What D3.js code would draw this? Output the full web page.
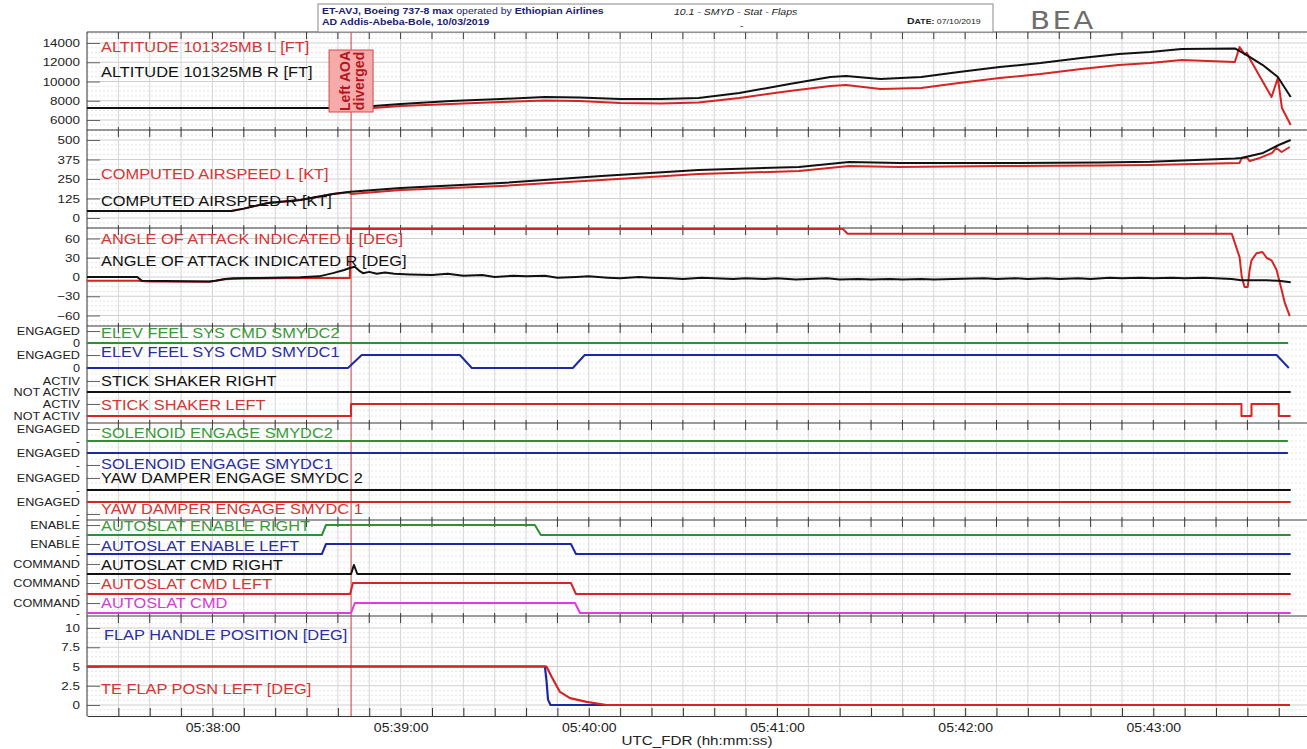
<!DOCTYPE html>
<html lang="en">
<head>
<meta charset="UTF-8">
<title>ET-AVJ SMYD Stat Flaps</title>
<script src="https://cdn.jsdelivr.net/npm/d3@7"></script>
<style>
  body { margin: 0; background: #fff; }
  svg { font-family: "Liberation Sans", Arial, sans-serif; }
</style>
</head>
<body>
<svg></svg>
<script>
// time = seconds after 05:37:00 UTC
var altitudeL = [[20,7250],[104,7250],[107,7150],[120,7455],[136,7660],[152,7870],[166,8025],[177,7975],[190,7765],[203,7715],[215,7820],[228,8290],[244,9010],[257,9530],[262,9640],[273,9220],[286,9325],[298,9845],[311,10365],[324,10780],[337,11300],[349,11710],[359,11920],[369,12230],[386,12025],[387.5,13580],[389.2,12800],[389.8,13000],[390.7,12400],[397.7,8390],[399.7,10365],[401,7250],[403.8,5480]];
var altitudeR = [[20,7250],[100,7250],[107,7350],[120,7660],[136,7975],[152,8180],[166,8390],[177,8340],[190,8180],[203,8180],[215,8290],[228,8800],[244,9740],[257,10470],[262,10570],[273,10260],[286,10470],[298,10990],[311,11500],[324,11920],[337,12440],[349,12860],[359,13065],[369,13380],[386,13430],[389.8,12750],[394.9,11710],[399.7,10470],[403.8,8390]];

var speedL = [[20,45],[66,45],[70,60],[77.7,96],[88,115],[98.4,154],[103.5,165],[104.2,154],[120,179],[152,205],[184,244],[215,282],[247,301],[263,333],[279,327],[311,333],[343,337],[359,340],[387.5,353],[388.2,385],[389.8,388],[390.7,365],[394,385],[397.9,417],[399.2,449],[400.9,423],[403.5,455]];
var speedR = [[20,45],[66,45],[70,60],[77.7,96],[88,115],[98.4,154],[104,169],[120,192],[152,224],[184,270],[215,308],[247,327],[263,359],[279,353],[311,352],[343,356],[359,361],[386,382],[388,385],[395,417],[400,468],[403.8,500]];

var aoaL = [[20,-6],[36,-6],[40,-7],[59,-7.5],[61,-6],[64,-3.5],[70,-2.5],[90,-1.5],[103.8,-1.5],[104.2,75],[261,75],[262.5,67.5],[385,67.5],[387.5,31],[388.2,0],[389.1,-15.5],[390.1,-15.5],[390.7,11],[391.3,26],[392.9,37],[394.8,39],[396.1,30],[397.7,26],[399.3,11],[400.9,-20],[401.9,-40],[403.5,-61]];
var aoaR = [[20,0],[36,0],[37.5,-6],[59,-7],[61,-6],[64,-3],[66.5,-2],[75,-1.5],[88,-0.5],[94,1],[98.4,6],[102,11],[103.8,14],[105.4,16],[107,9],[108,6],[110,8],[112.4,5],[115,7],[118,5],[123,4],[130,3],[135,5],[140,2],[146,3],[150,0],[156,2],[160,1],[166,2],[170,-1],[176,0],[180,1],[186,-1],[190,-2],[196,0],[200,-1],[206,-2],[210,-3],[216,-1],[220,-2],[226,-3],[230,-2],[236,-3],[240,-2],[246,-4],[250,-3],[256,-2],[260,-4],[266,-3],[270,-4],[276,-3],[280,-4],[286,-3],[290,-4],[296,-3],[306,-2],[310,-3],[316,-2],[320,-3],[326,-2],[330,-3],[336,-2],[340,-3],[346,-1],[350,-2],[356,-1],[360,-2],[366,-1],[370,-2],[376,-1],[380,-2],[385,-3],[388,-5],[396,-5],[400,-6],[403.8,-8]];

var elevFeel2 = [[20,0],[403,0]];
var elevFeel1 = [[20,0],[103.2,0],[107.6,1],[138.9,1],[142.7,0],[174.9,0],[178.7,1],[399.3,1],[403.2,0]];
var stickShakerR = [[20,0],[403.8,0]];
var stickShakerL = [[20,0],[104.2,0],[104.2,1],[388.1,1],[388.1,0],[391.3,0],[391.3,1],[400,1],[400,0],[403.8,0]];
var solenoid2 = [[20,0],[402.9,0]];
var solenoid1 = [[20,1],[402.9,1]];
var yawDamper2 = [[20,0],[403.8,0]];
var yawDamper1 = [[20,1],[403.8,1]];
var autoslatEnR = [[20,0],[94.9,0],[96.2,1],[162.8,1],[164.7,0],[403.8,0]];
var autoslatEnL = [[20,0],[94.9,0],[96.2,1],[174.3,1],[175.9,0],[403.8,0]];
var autoslatCmdR = [[20,0],[104.2,0],[105.1,0.9],[106.2,0],[403.8,0]];
var autoslatCmdL = [[20,0],[103.9,0],[104.8,1],[174.3,1],[175.9,0],[403.8,0]];
var autoslatCmd = [[20,0],[104.2,0],[105.4,1],[175.6,1],[177.2,0],[403.8,0]];

var flapHandle = [[20,5],[166,5],[166.5,3.2],[167,0.7],[167.8,0],[403.5,0]];
var teFlapL = [[20,5],[166.5,5],[168.1,3.7],[170.8,1.7],[174,0.9],[179.3,0.4],[185.7,0],[403.5,0]];

var altTicks = [6000, 8000, 10000, 12000, 14000];
var speedTicks = [0, 125, 250, 375, 500];
var aoaTicks = [-60, -30, 0, 30, 60];
var flapTicks = [0, 2.5, 5, 7.5, 10];
var eventTime = 104.2;

var RED = '#d62424', BLACK = '#111', GREEN = '#2f8f35', BLUE = '#1d28a6', MAGENTA = '#e03ae0';
var SX = 1.17;

var width = 1307, height = 749;
var left = 87, right = 1307, top0 = 32, bottom = 716;
var svg = d3.select('svg').attr('width', width).attr('height', height);

var x = d3.scaleLinear().domain([20, 409]).range([left, right]);
var gridTimes = d3.range(30, 409, 10);
var pad2 = d3.format('02d');
function fmtTime(t) {
  return '05:' + pad2(37 + Math.floor(t / 60)) + ':' + pad2(t % 60);
}

function putText(g, px, py, s, color, size, anchor, weight) {
  return g.append('text')
    .attr('transform', 'translate(' + px + ',' + py + ') scale(' + SX + ',1)')
    .attr('fill', color)
    .attr('font-size', size)
    .attr('text-anchor', anchor || 'start')
    .attr('font-weight', weight || 'normal')
    .text(s);
}

// panel boxes
var separators = [32, 130, 228, 326, 423, 520, 616];
var panelBounds = [[32,130],[130,228],[228,326],[326,423],[423,520],[520,616],[616,716]];

var grid = svg.append('g');

// continuous panels
var yAlt = d3.scaleLinear().domain([6000, 14000]).range([120, 43]);
var ySpd = d3.scaleLinear().domain([0, 500]).range([218, 140]);
var yAoa = d3.scaleLinear().domain([-60, 60]).range([315.5, 238.5]);
var yFlap = d3.scaleLinear().domain([0, 10]).range([705, 628]);

var contPanels = [
  {y: yAlt, ticks: altTicks, minor: 500, b: panelBounds[0], fmt: d3.format('d')},
  {y: ySpd, ticks: speedTicks, minor: 31.25, b: panelBounds[1], fmt: d3.format('d')},
  {y: yAoa, ticks: aoaTicks, minor: 7.5, b: panelBounds[2], fmt: d3.format('d')},
  {y: yFlap, ticks: flapTicks, minor: 0.625, b: panelBounds[6], fmt: function (d) { return String(d); }}
];

// horizontal grid for continuous panels
contPanels.forEach(function (p) {
  var d0 = p.y.invert(p.b[1]), d1 = p.y.invert(p.b[0]);
  var vals = d3.range(Math.ceil(d0 / p.minor) * p.minor, d1, p.minor);
  grid.selectAll(null).data(vals).enter().append('line')
    .attr('x1', left).attr('x2', right)
    .attr('y1', function (d) { return p.y(d); })
    .attr('y2', function (d) { return p.y(d); })
    .attr('stroke', function (d) { return p.ticks.indexOf(d) >= 0 ? '#cfcfcf' : '#e4e4e4'; })
    .attr('stroke-dasharray', function (d) { return p.ticks.indexOf(d) >= 0 ? null : '2,2'; })
    .attr('stroke-width', 1);
});

// horizontal grid for discrete panels
[panelBounds[3], panelBounds[4], panelBounds[5]].forEach(function (b) {
  var vals = d3.range(b[0] + 6, b[1] - 2, 6);
  grid.selectAll(null).data(vals).enter().append('line')
    .attr('x1', left).attr('x2', right)
    .attr('y1', function (d) { return d; }).attr('y2', function (d) { return d; })
    .attr('stroke', '#e6e6e6').attr('stroke-dasharray', '2,2');
});

// vertical grid
grid.selectAll(null).data(gridTimes).enter().append('line')
  .attr('x1', function (d) { return x(d); })
  .attr('x2', function (d) { return x(d); })
  .attr('y1', top0).attr('y2', bottom)
  .attr('stroke', '#d6d6d6');

// separators with ticks
var sepG = svg.append('g');
separators.forEach(function (s) {
  sepG.append('line').attr('x1', left).attr('x2', right).attr('y1', s).attr('y2', s)
    .attr('stroke', '#3a3a3a').attr('stroke-width', 1);
  sepG.selectAll(null).data(gridTimes).enter().append('line')
    .attr('x1', function (d) { return x(d); })
    .attr('x2', function (d) { return x(d); })
    .attr('y1', s === top0 ? s : s - 3).attr('y2', s + 7)
    .attr('stroke', '#3a3a3a');
});

// left axes
function styleAxis(size) {
  return function (g) {
    g.select('.domain').remove();
    g.selectAll('.tick line').attr('stroke', '#666');
    g.selectAll('.tick text')
      .attr('x', null)
      .attr('transform', 'translate(-7,0) scale(' + SX + ',1)')
      .attr('fill', '#222')
      .attr('font-size', size);
  };
}
contPanels.forEach(function (p) {
  svg.append('g')
    .attr('transform', 'translate(' + left + ',0)')
    .call(d3.axisLeft(p.y).tickValues(p.ticks).tickFormat(p.fmt).tickSize(-13).tickPadding(7))
    .call(styleAxis(11.5));
});

// discrete channels
var discreteRows = [
  {lo: 343, hi: 331, labels: ['0', 'ENGAGED'], data: elevFeel2, color: GREEN},
  {lo: 368, hi: 355, labels: ['0', 'ENGAGED'], data: elevFeel1, color: BLUE},
  {lo: 392, hi: 381, labels: ['NOT ACTIV', 'ACTIV'], data: stickShakerR, color: BLACK},
  {lo: 416, hi: 404, labels: ['NOT ACTIV', 'ACTIV'], data: stickShakerL, color: RED},
  {lo: 441, hi: 429, labels: ['-', 'ENGAGED'], data: solenoid2, color: GREEN},
  {lo: 465, hi: 453, labels: ['-', 'ENGAGED'], data: solenoid1, color: BLUE},
  {lo: 490, hi: 478, labels: ['-', 'ENGAGED'], data: yawDamper2, color: BLACK},
  {lo: 514, hi: 502, labels: ['-', 'ENGAGED'], data: yawDamper1, color: RED},
  {lo: 535, hi: 525, labels: ['-', 'ENABLE'], data: autoslatEnR, color: GREEN},
  {lo: 554, hi: 544, labels: ['-', 'ENABLE'], data: autoslatEnL, color: BLUE},
  {lo: 574, hi: 564, labels: ['-', 'COMMAND'], data: autoslatCmdR, color: BLACK},
  {lo: 594, hi: 583, labels: ['-', 'COMMAND'], data: autoslatCmdL, color: RED},
  {lo: 613, hi: 603, labels: ['-', 'COMMAND'], data: autoslatCmd, color: MAGENTA}
];
discreteRows.forEach(function (r) {
  r.y = d3.scaleLinear().domain([0, 1]).range([r.lo, r.hi]);
  svg.append('g')
    .attr('transform', 'translate(' + left + ',0)')
    .call(d3.axisLeft(r.y).tickValues([0, 1]).tickFormat(function (d) { return r.labels[d]; }).tickSize(-13).tickPadding(7))
    .call(styleAxis(10.8));
});

// left axis line
svg.append('line').attr('x1', left).attr('x2', left).attr('y1', top0).attr('y2', bottom)
  .attr('stroke', '#333');

// bottom axis
var xAxisG = svg.append('g')
  .attr('transform', 'translate(0,' + bottom + ')')
  .call(d3.axisBottom(x).tickValues(gridTimes)
    .tickFormat(function (d) { return d % 60 === 0 ? fmtTime(d) : ''; })
    .tickSizeInner(-8).tickSizeOuter(0).tickPadding(7));
xAxisG.select('.domain').attr('stroke', '#333');
xAxisG.selectAll('.tick line').attr('stroke', '#333');
xAxisG.selectAll('.tick text')
  .attr('x', null)
  .attr('transform', 'scale(' + SX + ',1)')
  .attr('font-size', 12).attr('fill', '#222');
putText(svg, (left + right) / 2, 745, 'UTC_FDR (hh:mm:ss)', '#222', 13, 'middle');

// event line
svg.append('line')
  .attr('x1', x(eventTime)).attr('x2', x(eventTime))
  .attr('y1', top0).attr('y2', bottom)
  .attr('stroke', '#c43a3a').attr('stroke-width', 1);

// series lines
function drawLine(data, y, color, w) {
  svg.append('path')
    .datum(data)
    .attr('fill', 'none')
    .attr('stroke', color)
    .attr('stroke-width', w || 2)
    .attr('stroke-linejoin', 'round')
    .attr('d', d3.line().x(function (d) { return x(d[0]); }).y(function (d) { return y(d[1]); }));
}
drawLine(altitudeL, yAlt, RED);
drawLine(altitudeR, yAlt, BLACK);
drawLine(speedL, ySpd, RED);
drawLine(speedR, ySpd, BLACK);
drawLine(aoaL, yAoa, RED);
drawLine(aoaR, yAoa, BLACK);
discreteRows.forEach(function (r) { drawLine(r.data, r.y, r.color); });
drawLine(flapHandle, yFlap, BLUE, 2.2);
drawLine(teFlapL, yFlap, RED, 2.2);

// series labels
var LRED = '#d43535', LGREEN = '#3b9a3b', LBLUE = '#2a2e9e', LMAG = '#d43cd4';
var seriesLabels = [
  ['ALTITUDE 101325MB L [FT]', 101, 52, LRED],
  ['ALTITUDE 101325MB R [FT]', 101, 77, BLACK],
  ['COMPUTED AIRSPEED L [KT]', 101, 179, LRED],
  ['COMPUTED AIRSPEED R [KT]', 101, 206, BLACK],
  ['ANGLE OF ATTACK INDICATED L [DEG]', 101, 244, LRED],
  ['ANGLE OF ATTACK INDICATED R [DEG]', 101, 266, BLACK],
  ['ELEV FEEL SYS CMD SMYDC2', 101, 338, LGREEN],
  ['ELEV FEEL SYS CMD SMYDC1', 101, 357, LBLUE],
  ['STICK SHAKER RIGHT', 101, 386, BLACK],
  ['STICK SHAKER LEFT', 101, 410, LRED],
  ['SOLENOID ENGAGE SMYDC2', 101, 438, LGREEN],
  ['SOLENOID ENGAGE SMYDC1', 101, 469, LBLUE],
  ['YAW DAMPER ENGAGE SMYDC 2', 101, 483, BLACK],
  ['YAW DAMPER ENGAGE SMYDC 1', 101, 514, LRED],
  ['AUTOSLAT ENABLE RIGHT', 101, 531, LGREEN],
  ['AUTOSLAT ENABLE LEFT', 101, 551, LBLUE],
  ['AUTOSLAT CMD RIGHT', 101, 570, BLACK],
  ['AUTOSLAT CMD LEFT', 101, 589, LRED],
  ['AUTOSLAT CMD', 101, 608, LMAG],
  ['FLAP HANDLE POSITION [DEG]', 104, 640, LBLUE],
  ['TE FLAP POSN LEFT [DEG]', 101, 694, LRED]
];
seriesLabels.forEach(function (l) { putText(svg, l[1], l[2], l[0], l[3], 14); });

// event annotation box
var ex = x(eventTime);
svg.append('rect').attr('x', ex - 22).attr('y', 50).attr('width', 44).attr('height', 62)
  .attr('fill', '#f6abab').attr('stroke', '#d24a4a').attr('stroke-width', 1);
['Left AOA', 'diverged'].forEach(function (s, i) {
  svg.append('text')
    .attr('transform', 'translate(' + (ex - 1 + i * 14) + ',81) rotate(-90)')
    .attr('text-anchor', 'middle')
    .attr('font-size', 14).attr('font-weight', 'bold')
    .attr('fill', '#b3151c')
    .text(s);
});

// header
var hdr = svg.append('g');
hdr.append('rect').attr('x', 318).attr('y', 4).attr('width', 675).attr('height', 28)
  .attr('fill', '#fff').attr('stroke', '#8a8a8a');
var NAVY = '#1b2170';
var t1 = hdr.append('text').attr('transform', 'translate(322,14) scale(' + SX + ',1)')
  .attr('font-size', 9).attr('fill', NAVY);
t1.append('tspan').attr('font-weight', 'bold').text('ET-AVJ, Boeing 737-8 max');
t1.append('tspan').text(' operated by ');
t1.append('tspan').attr('font-weight', 'bold').text('Ethiopian Airlines');
putText(hdr, 322, 25, 'AD Addis-Abeba-Bole, 10/03/2019', NAVY, 9, 'start', 'bold');
putText(hdr, 674, 15, '10.1 - SMYD - Stat - Flaps', '#222', 9).attr('font-style', 'italic');
putText(hdr, 740, 29, '-', '#222', 9);
var t2 = hdr.append('text').attr('transform', 'translate(907,24) scale(' + SX + ',1)')
  .attr('font-size', 7.5).attr('fill', '#222');
t2.append('tspan').attr('font-weight', 'bold').attr('font-size', 9).text('D');
t2.append('tspan').attr('font-weight', 'bold').text('ATE: ');
t2.append('tspan').text('07/10/2019');
putText(svg, 1030, 29, 'BEA', '#6e6e6e', 25).attr('letter-spacing', 2).attr('font-family', 'DejaVu Sans');
</script>
</body>
</html>
